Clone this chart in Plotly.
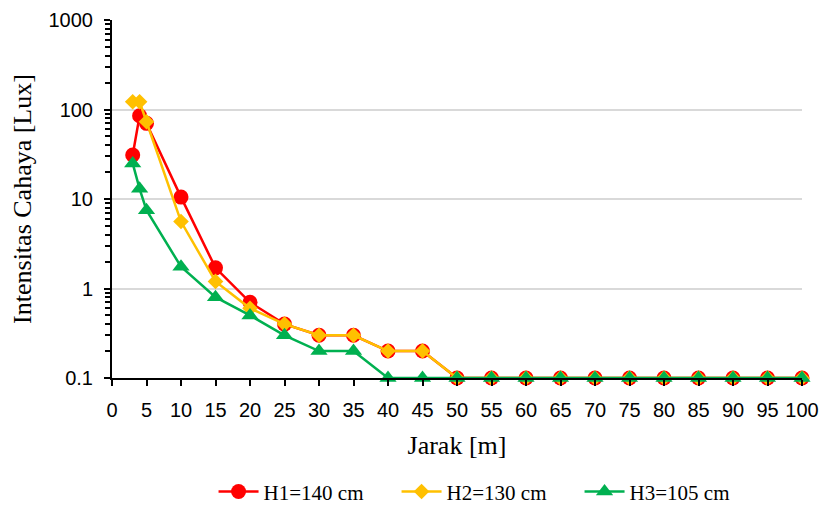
import plotly.graph_objects as go

x_vals = [3, 4, 5, 10, 15, 20, 25, 30, 35, 40, 45, 50, 55, 60, 65, 70, 75, 80, 85, 90, 95, 100]
h1 = [31, 85, 70, 10.5, 1.7, 0.7, 0.4, 0.3, 0.3, 0.2, 0.2, 0.1, 0.1, 0.1, 0.1, 0.1, 0.1, 0.1, 0.1, 0.1, 0.1, 0.1]
h2 = [122, 122, 73, 5.6, 1.2, 0.6, 0.4, 0.3, 0.3, 0.2, 0.2, 0.1, 0.1, 0.1, 0.1, 0.1, 0.1, 0.1, 0.1, 0.1, 0.1, 0.1]
h3 = [25, 13, 7.5, 1.75, 0.8, 0.5, 0.3, 0.2, 0.2, 0.1, 0.1, 0.1, 0.1, 0.1, 0.1, 0.1, 0.1, 0.1, 0.1, 0.1, 0.1, 0.1]
names = ["H1=140 cm", "H2=130 cm", "H3=105 cm"]
colors = ["#ff0000", "#ffc000", "#00b050"]
symbols = ["circle", "diamond", "triangle-up"]
sizes = [15, 12, 15]

fig = go.Figure()
for ys, nm, c, s, sz in zip([h1, h2, h3], names, colors, symbols, sizes):
    fig.add_trace(go.Scatter(x=x_vals, y=ys, name=nm, mode="lines+markers",
                             line=dict(color=c, width=2.5),
                             marker=dict(color=c, symbol=s, size=sz),
                             cliponaxis=False))

serif = "Liberation Serif, Times New Roman, serif"
sans = "Liberation Sans, Arial, sans-serif"

fig.update_layout(
    width=824, height=507,
    margin=dict(l=112, r=22, t=20, b=129, autoexpand=False),
    paper_bgcolor="white", plot_bgcolor="white",
    showlegend=True,
    legend=dict(orientation="h", x=0.545, xanchor="center", y=-0.318, yanchor="middle",
                font=dict(family=serif, size=21, color="black"), itemwidth=40,
                entrywidth=128, entrywidthmode="pixels"),
    xaxis=dict(range=[0, 100], dtick=5, tick0=0, showgrid=False, zeroline=False,
               showline=True, linecolor="black", linewidth=2, automargin=False,
               ticks="outside", ticklen=6, tickcolor="black", tickwidth=1.5,
               ticklabelstandoff=7,
               tickfont=dict(family=sans, size=20, color="black"),
               title=dict(text="Jarak [m]", font=dict(family=serif, size=26, color="black"), standoff=16)),
    yaxis=dict(type="log", range=[-1, 3], showgrid=True, gridcolor="#d9d9d9", gridwidth=1.5,
               zeroline=False, showline=True, linecolor="black", linewidth=2, automargin=False,
               ticks="outside", ticklen=6, tickcolor="black", tickwidth=1.5,
               ticklabelstandoff=7,
               tickvals=[0.1, 1, 10, 100, 1000], ticktext=["0.1", "1", "10", "100", "1000"],
               minor=dict(ticks="outside", ticklen=5, tickcolor="black", tickwidth=1.5, dtick="D1", showgrid=False),
               tickfont=dict(family=sans, size=20, color="black"),
               title=dict(text="Intensitas Cahaya [Lux]", font=dict(family=serif, size=26, color="black"), standoff=9)),
)

fig.write_html("out.html")
